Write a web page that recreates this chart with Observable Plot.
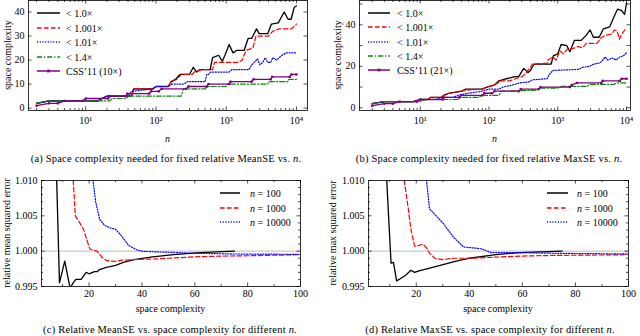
<!DOCTYPE html>
<html>
<head>
<meta charset="utf-8">
<script src="https://cdn.jsdelivr.net/npm/d3@7"></script>
<script src="https://cdn.jsdelivr.net/npm/@observablehq/plot@0.6"></script>
<style>
html,body{margin:0;padding:0;background:#fff;}
#fig{position:relative;width:640px;height:336px;overflow:hidden;font-family:"Liberation Serif","DejaVu Serif",serif;color:#000;}
#fig svg{position:absolute;overflow:visible;}
.t{position:absolute;white-space:nowrap;font-size:10px;line-height:1;transform:translate(-50%,-50%);font-family:"Liberation Serif","DejaVu Serif",serif;}
.cap{font-size:10.5px;letter-spacing:0.2px;}
.ylab{transform:translate(-50%,-50%) rotate(-90deg);}
</style>
</head>
<body>
<div id="fig"></div>
<script>
// ---------------- data ----------------
// (a) space complexity needed for fixed relative MeanSE vs n : [n, space]
const meanExact = [[2,2],[3,3],[15,3],[17,4],[20,5],[45,5],[48,8],[90,8],[100,9],[150,9],[165,11],[190,12],[220,14],[300,14],[340,17],[380,15],[420,16],[590,16],[640,21],[780,22],[880,19.5],[960,22],[1100,26.5],[1250,23],[1400,24],[1800,24],[2050,29],[2300,29],[2700,33],[2950,31],[3900,31],[4400,35],[5500,35.5],[6700,40],[7600,37],[8400,37],[9300,42],[10000,42.5]];
const meanR1001 = [[2,2],[3,3],[15,3],[17,4],[20,5],[45,5],[48,8],[90,8],[100,9],[150,9],[165,11],[200,12],[230,14],[330,14],[350,15],[450,16],[640,16],[680,19],[1500,19],[1700,20],[1900,24],[2400,25],[2650,30],[4000,30],[4600,32],[5700,33],[8500,33],[10000,35]];
const meanR101 = [[2,2],[3,3],[15,3],[17,4],[20,5],[40,5],[45,7],[90,8],[100,9],[150,9],[170,10],[250,10],[280,11],[500,11],[530,14],[560,14],[600,15],[1100,15],[1200,16],[2100,16],[2300,18],[2500,19],[2800,20.5],[3000,18],[3300,19],[3600,21],[3900,19],[4300,19],[4600,21],[5200,20],[5700,21],[6200,22],[7200,23],[10000,23]];
const meanR14 = [[2,2],[3,3],[22,3],[24,4],[38,4],[40,5],[230,5],[245,8],[500,8],[540,9],[1000,9],[1050,10],[3900,10],[4000,11],[7500,11],[7800,12],[10000,12]];
const meanCSS = [[2,1],[3,2],[4,2],[5,3],[9,3],[10,4],[21,4],[22,5],[37,5],[39,6],[80,6],[85,7],[110,7],[120,8],[270,8],[290,9],[530,9],[560,10],[1100,10],[1150,11],[2300,11],[2450,12],[4300,12],[4500,13],[8000,13],[8500,14],[10000,14]];

// (b) space complexity needed for fixed relative MaxSE vs n : [n, space]
const maxExact = [[2,2],[3,3],[8,3],[10,4],[13,4],[14,5],[20,5],[22,6],[26,7],[40,8],[46,9],[80,9],[93,10],[120,11],[140,13],[180,14],[240,15],[270,15],[320,19],[370,17],[400,18],[450,21],[800,21],[860,25],[1000,26],[1120,30.5],[1350,30],[1500,27],[1750,32.5],[2200,32.5],[2600,35],[2950,37.5],[3300,34],[4000,34],[4600,38],[5700,39],[6700,44.5],[7400,47.5],[8400,47],[9400,45],[10000,50.5]];
const maxR1001 = [[2,2],[3,3],[8,3],[10,4],[13,4],[14,5],[20,5],[22,6],[26,7],[40,8],[46,8.5],[80,9],[93,10],[120,11],[150,13],[200,13],[240,14],[300,15],[340,16.5],[430,21],[700,21.5],[720,23],[850,24.5],[950,23],[1070,27.5],[1200,26],[1400,28.5],[1650,28.5],[1950,29.5],[2300,29],[2600,31],[3700,31],[4350,34],[5100,35],[6000,35.5],[6700,37.5],[7300,37],[7900,33],[8400,35],[9400,37.5],[10000,38]];
const maxR101 = [[2,2],[3,3],[8,3],[10,4],[17,4],[20,5],[30,5],[35,6],[50,7],[80,8],[100,9],[140,9],[160,10],[220,11],[280,12],[380,12.5],[430,13.5],[700,14],[750,16],[850,18],[2000,18.5],[2300,19.5],[2900,20],[3300,21],[4000,21.5],[4400,22.5],[4900,24.5],[5300,23],[6200,24],[7100,23],[8000,24.5],[9000,25],[10000,26.5]];
const maxR14 = [[2,2],[3,3],[10,3],[12,4],[35,4],[38,5],[70,5],[80,6],[140,6],[150,8],[500,8.5],[550,9.5],[1000,9.5],[1150,10.3],[2700,10.3],[2900,11.3],[6500,11.3],[7200,12],[10000,12]];
const maxCSS = [[2,1],[3,2],[4,2],[5,3],[9,3],[10,4],[21,4],[22,5],[37,5],[39,6],[80,6],[85,7],[110,7],[120,8],[270,8],[290,9],[530,9],[560,10],[1500,10],[1600,11],[1900,12],[4300,12],[4500,13],[8000,13],[8500,14],[10000,14]];

// (c) relative mean squared error vs space complexity : [space, ratio]
const mseN100 = [[7.6,1.012],[8.8,0.9955],[10.8,0.9986],[12.8,0.9948],[14,0.9955],[15,0.996],[17,0.996],[18.9,0.997],[20,0.9968],[22,0.9971],[23,0.9971],[24,0.9974],[26.5,0.9977],[28,0.9978],[30,0.998],[33,0.9984],[37,0.9988],[44,0.9992],[52,0.9995],[62,0.9998],[75,1.0000]];
const mseN1000 = [[13.7,1.012],[14.8,1.005],[16.5,1.004],[18,1.003],[19,1.0018],[20.3,1.0003],[22,1.0001],[23,1.0000],[25,0.9991],[26.5,0.9987],[28,0.9986],[30,0.99855],[32,0.9987],[36,0.9988],[45,0.9989],[50,0.999],[60,0.9992],[70,0.9993],[80,0.99935],[100,0.9995]];
const mseN10000 = [[20.8,1.012],[22.5,1.007],[24,1.0045],[26,1.0036],[28,1.0033],[30,1.0031],[31.5,1.0025],[33,1.0018],[35,1.0008],[38,1.0002],[40,1.0000],[45,0.9999],[50,0.99985],[60,0.9997],[75,0.9996],[100,0.99955]];

// (d) relative max squared error vs space complexity : [space, ratio]
const maxseN100 = [[8.6,1.012],[10.5,0.9983],[11.4,0.9984],[12.6,0.9958],[14,0.9961],[16,0.9966],[18,0.9973],[19.4,0.997],[21,0.9972],[24,0.9975],[29,0.998],[34,0.9985],[40,0.999],[50,0.9995],[59,0.9998],[75,1.0000]];
const maxseN1000 = [[14.7,1.012],[17,1.006],[18,1.003],[19.4,1.0007],[21,1.0008],[22.5,1.001],[23.8,1.0005],[25,0.9997],[27,0.999],[30,0.9988],[34,0.999],[40,0.999],[46.7,0.9991],[59,0.9993],[72,0.9994],[100,0.9995]];
const maxseN10000 = [[23.3,1.012],[25,1.006],[30,1.004],[34,1.002],[37.8,1.0006],[43,1.0004],[45,1.0003],[48,0.9998],[59,0.9998],[72,0.9997],[100,0.9996]];

// labels
const ratioLabels = ["< 1.0×", "< 1.001×", "< 1.01×", "< 1.4×"];
const cssLabelMean = "CSS\u201911 (10×)";
const cssLabelMax = "CSS\u201911 (21×)";
const nValues = ["100", "1000", "10000"];
const logTicks = [10, 100, 1000, 10000];
const logMinor = [2,3,4,5,6,7,8,9,20,30,40,50,60,70,80,90,200,300,400,500,600,700,800,900,2000,3000,4000,5000,6000,7000,8000,9000];
const spaceTicksA = [0, 10, 20, 30, 40];
const spaceTicksB = [0, 10, 20, 30, 40, 50];
const spaceLabelsB = [0, 20, 40];
const ratioTicks = [0.995, 1.000, 1.005, 1.010];
const ratioMinor = [0.996, 0.997, 0.998, 0.999, 1.001, 1.002, 1.003, 1.004, 1.006, 1.007, 1.008, 1.009];
const scTicks = [20, 40, 60, 80, 100];
const scMinor = [10, 30, 50, 70, 90];
const captions = [
  "(a) Space complexity needed for fixed relative MeanSE vs. <i>n</i>.",
  "(b) Space complexity needed for fixed relative MaxSE vs. <i>n</i>.",
  "(c) Relative MeanSE vs. space complexity for different <i>n</i>.",
  "(d) Relative MaxSE vs. space complexity for different <i>n</i>."
];

// ---------------- styles ----------------
const FONT = '"Liberation Serif", "DejaVu Serif", serif';
const STY = [
  {stroke: "#000000", dash: null, w: 1.3},
  {stroke: "#ff0000", dash: "4.5,2.5", w: 1.2},
  {stroke: "#0000ff", dash: "1.1,1.6", w: 1.2},
  {stroke: "#008a00", dash: "5,2,1.2,2", w: 1.2},
  {stroke: "#800080", dash: null, w: 1.3, marker: true}
];
const sup = {1: "\u00b9", 2: "\u00b2", 3: "\u00b3", 4: "\u2074"};
const fig = document.getElementById("fig");

function panel(o) {
  const fw = o.width - o.mL - o.mR, fh = o.height - o.mT - o.mB;
  const marks = [];
  if (o.refLine != null) marks.push(Plot.ruleY([o.refLine], {stroke: "#c8c8c8", strokeWidth: 1.4}));
  o.series.forEach(s => {
    marks.push(Plot.line(s.data, {x: d => d[0], y: d => d[1], stroke: s.stroke, strokeWidth: s.w, strokeDasharray: s.dash, clip: true}));
    if (s.marker) marks.push(Plot.dot(s.data, {x: d => d[0], y: d => d[1], r: 1.3, symbol: "square", fill: s.stroke, clip: true}));
  });
  const tk = (vals, len, k) => [
    k === "x" ? Plot.ruleX(vals, {x: d => d, insetTop: fh - len, strokeWidth: 0.7}) : Plot.ruleY(vals, {y: d => d, insetRight: fw - len, strokeWidth: 0.7}),
    k === "x" ? Plot.ruleX(vals, {x: d => d, insetBottom: fh - len, strokeWidth: 0.7}) : Plot.ruleY(vals, {y: d => d, insetLeft: fw - len, strokeWidth: 0.7})
  ];
  marks.push(...tk(o.xMajor, 3.5, "x"), ...tk(o.xMinor, 2, "x"), ...tk(o.yMajor, 3.5, "y"), ...tk(o.yMinor, 2, "y"));
  marks.push(Plot.frame({stroke: "#000", strokeWidth: 0.8}));
  marks.push(Plot.axisX(o.xLab, {tickSize: 0, tickPadding: o.xPad, tickFormat: o.xFmt, label: null, fontFamily: FONT}));
  marks.push(Plot.axisY(o.yLab, {tickSize: 0, tickPadding: o.yPad, tickFormat: o.yFmt, label: null, fontFamily: FONT}));
  const svg = Plot.plot({
    width: o.width, height: o.height,
    marginLeft: o.mL, marginRight: o.mR, marginTop: o.mT, marginBottom: o.mB,
    x: o.x, y: o.y,
    style: {fontFamily: FONT, fontSize: "10px", background: "transparent", color: "#000"},
    marks
  });
  svg.style.left = o.left + "px";
  svg.style.top = o.top + "px";
  fig.appendChild(svg);
  // legend
  const g = d3.select(svg).append("g").attr("font-family", FONT).attr("font-size", 10).attr("text-anchor", "start");
  o.legend.forEach((e, i) => {
    const y = Math.round(o.lg.y0 + i * o.lg.dy);
    g.append("line").attr("x1", o.lg.x0).attr("x2", o.lg.x1).attr("y1", y).attr("y2", y)
      .attr("stroke", e.s.stroke).attr("stroke-width", 1.5).attr("stroke-dasharray", e.s.dash);
    if (e.s.marker) g.append("rect").attr("x", (o.lg.x0 + o.lg.x1) / 2 - 1.4).attr("y", y - 1.4).attr("width", 2.8).attr("height", 2.8).attr("fill", e.s.stroke);
    const t = g.append("text").attr("x", o.lg.tx).attr("y", y).attr("dy", "0.35em").attr("text-anchor", "start");
    if (e.n) {
      t.append("tspan").attr("font-style", "italic").text("n");
      t.append("tspan").text(" = " + e.n);
    } else t.text(e.label);
  });
  return svg;
}
function addText(html, x, y, cls) {
  const d = document.createElement("div");
  d.className = "t" + (cls ? " " + cls : "");
  d.innerHTML = html;
  d.style.left = x + "px"; d.style.top = y + "px";
  fig.appendChild(d);
}
const logFmt = d => "10" + sup[Math.round(Math.log10(d))];
const ratioFmt = d => d.toFixed(3);

// (a)
panel({
  left: 0, top: 0, width: 320, height: 150, mL: 28, mR: 13, mT: 0, mB: 40,
  x: {type: "log", domain: [1.534, 14360]}, y: {domain: [-1, 44.8]},
  series: [meanExact, meanR1001, meanR101, meanR14, meanCSS].map((d, i) => ({data: d, ...STY[i]})),
  xMajor: logTicks, xMinor: logMinor, yMajor: spaceTicksA, yMinor: [],
  xLab: logTicks, yLab: spaceTicksA, xFmt: logFmt, yFmt: d => d, xPad: 6, yPad: 4,
  legend: [...ratioLabels, cssLabelMean].map((l, i) => ({label: l, s: STY[i]})),
  lg: {x0: 37, x1: 60, tx: 66, y0: 13, dy: 14.5}
});
// (b)
panel({
  left: 320, top: 0, width: 320, height: 150, mL: 39, mR: 10, mT: 0, mB: 40,
  x: {type: "log", domain: [1.306, 11430]}, y: {domain: [-1.3, 51.7]},
  series: [maxExact, maxR1001, maxR101, maxR14, maxCSS].map((d, i) => ({data: d, ...STY[i]})),
  xMajor: logTicks, xMinor: logMinor, yMajor: spaceTicksB, yMinor: [],
  xLab: logTicks, yLab: spaceLabelsB, xFmt: logFmt, yFmt: d => d, xPad: 6, yPad: 4,
  legend: [...ratioLabels, cssLabelMax].map((l, i) => ({label: l, s: STY[i]})),
  lg: {x0: 48, x1: 70, tx: 77, y0: 13, dy: 14.3}
});
// (c)
panel({
  left: 0, top: 150, width: 320, height: 170, mL: 41, mR: 20, mT: 30, mB: 34,
  x: {domain: [2, 100]}, y: {domain: [0.995, 1.010]}, refLine: 1.0,
  series: [mseN100, mseN1000, mseN10000].map((d, i) => ({data: d, ...STY[i]})),
  xMajor: scTicks, xMinor: scMinor, yMajor: ratioTicks, yMinor: ratioMinor,
  xLab: scTicks, yLab: ratioTicks, xFmt: d => d, yFmt: ratioFmt, xPad: 3, yPad: 4,
  legend: nValues.map((n, i) => ({n, s: STY[i]})),
  lg: {x0: 220, x1: 240, tx: 250, y0: 43, dy: 14.5}
});
// (d)
panel({
  left: 320, top: 150, width: 320, height: 170, mL: 48, mR: 12, mT: 30, mB: 34,
  x: {domain: [2, 100]}, y: {domain: [0.995, 1.010]}, refLine: 1.0,
  series: [maxseN100, maxseN1000, maxseN10000].map((d, i) => ({data: d, ...STY[i]})),
  xMajor: scTicks, xMinor: scMinor, yMajor: ratioTicks, yMinor: ratioMinor,
  xLab: scTicks, yLab: ratioTicks, xFmt: d => d, yFmt: ratioFmt, xPad: 3, yPad: 4,
  legend: nValues.map((n, i) => ({n, s: STY[i]})),
  lg: {x0: 227, x1: 248, tx: 257, y0: 43, dy: 14.5}
});

// axis titles and captions
addText("<i>n</i>", 167.5, 139);
addText("<i>n</i>", 494.5, 139);
addText("space complexity", 170.5, 309);
addText("space complexity", 498, 309);
addText("space complexity", 8, 55, "ylab");
addText("space complexity", 338, 55, "ylab");
addText("relative mean squared error", 7, 233, "ylab");
addText("relative max squared error", 333, 233, "ylab");
addText(captions[0], 166, 159, "cap");
addText(captions[1], 489, 159, "cap");
addText(captions[2], 170, 330, "cap");
addText(captions[3], 490, 330, "cap");
</script>
</body>
</html>
